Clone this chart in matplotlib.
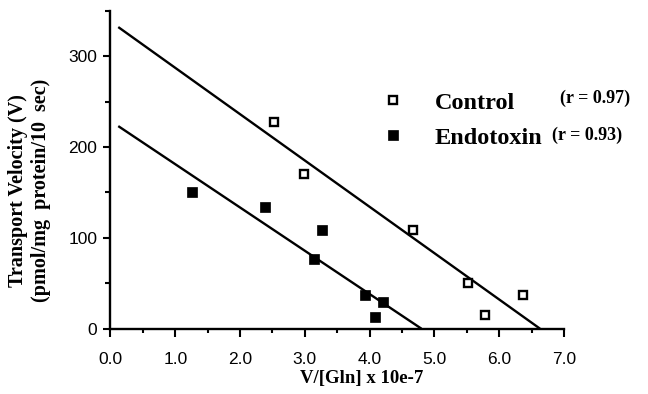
import numpy as np
import matplotlib
matplotlib.use('agg')
import matplotlib.pyplot as plt

# data
ctrl_x = [2.53, 2.98, 4.67, 5.52, 5.78, 6.37]
ctrl_y = [227, 170, 109, 50, 15, 37]
endo_x = [1.26, 2.38, 3.14, 3.26, 3.93, 4.08, 4.21]
endo_y = [150, 134, 77, 109, 37, 13, 29]

# regression lines (end points as drawn)
ctrl_fit_x = [0.12, 6.63]
ctrl_fit_y = [332, 0]
endo_fit_x = [0.12, 4.80]
endo_fit_y = [223, 0]

labels = ['Control', 'Endotoxin']
rvals = ['(r = 0.97)', '(r = 0.93)']

serif = 'Liberation Serif'
sans = 'Liberation Sans'

fig = plt.figure(figsize=(6.48, 3.94), dpi=100)
ax = fig.add_axes([0.1705, 0.1657, 0.6999, 0.8071])

ax.plot(ctrl_fit_x, ctrl_fit_y, c='k', lw=1.7, solid_capstyle='butt')
ax.plot(endo_fit_x, endo_fit_y, c='k', lw=1.7, solid_capstyle='butt')
p1, = ax.plot(ctrl_x, ctrl_y, ls='none', marker='s', ms=5.6, mfc='white', mec='k', mew=1.7, label=labels[0])
p2, = ax.plot(endo_x, endo_y, ls='none', marker='s', ms=7.4, mfc='k', mec='k', mew=0.5, label=labels[1])

ax.set_xlim(0, 7.0)
ax.set_ylim(0, 350)
ax.spines['top'].set_visible(False)
ax.spines['right'].set_visible(False)
ax.spines['left'].set_linewidth(1.7)
ax.spines['bottom'].set_linewidth(1.7)

xt = np.arange(0, 7.5, 1.0)
ax.set_xticks(xt)
ax.set_xticklabels(['%.1f' % v for v in xt])
ax.set_xticks(np.arange(0.5, 7.0, 1.0), minor=True)
ax.set_yticks([0, 100, 200, 300])
ax.set_yticks([50, 150, 250, 350], minor=True)
ax.tick_params(axis='x', which='major', length=5.8, width=1.5, pad=11, labelsize=12.5)
ax.tick_params(axis='x', which='minor', length=3.0, width=1.5)
ax.tick_params(axis='y', which='major', length=5.0, width=1.5, pad=4.5, labelsize=12.5)
ax.tick_params(axis='y', which='minor', length=3.4, width=1.5)
for t in ax.get_xticklabels() + ax.get_yticklabels():
	t.set_fontfamily(sans)

ax.set_xlabel('V/[Gln] x 10e-7', fontfamily=serif, fontweight='bold', fontsize=13.5, va='center')
ax.xaxis.set_label_coords(0.5546, -0.155)
ax.set_ylabel('Transport Velocity (V)\n(pmol/mg  protein/10  sec)', fontfamily=serif,
	fontweight='bold', fontsize=14.5, va='center', linespacing=1.2)
ax.yaxis.set_label_coords(-0.1775, 0.436)

leg = ax.legend(handles=[p1, p2], loc='upper left', bbox_to_anchor=(0.597, 0.746),
	frameon=False, handlelength=1.0, handletextpad=1.2, labelspacing=0.54,
	borderpad=0, borderaxespad=0, prop={'family': serif, 'weight': 'bold', 'size': 17.5})

fig.text(560 / 648., 1 - 98 / 394., rvals[0], family=serif, weight='bold', fontsize=13, va='center')
fig.text(552 / 648., 1 - 135 / 394., rvals[1], family=serif, weight='bold', fontsize=13, va='center')

fig.savefig('out.png', dpi=100)
